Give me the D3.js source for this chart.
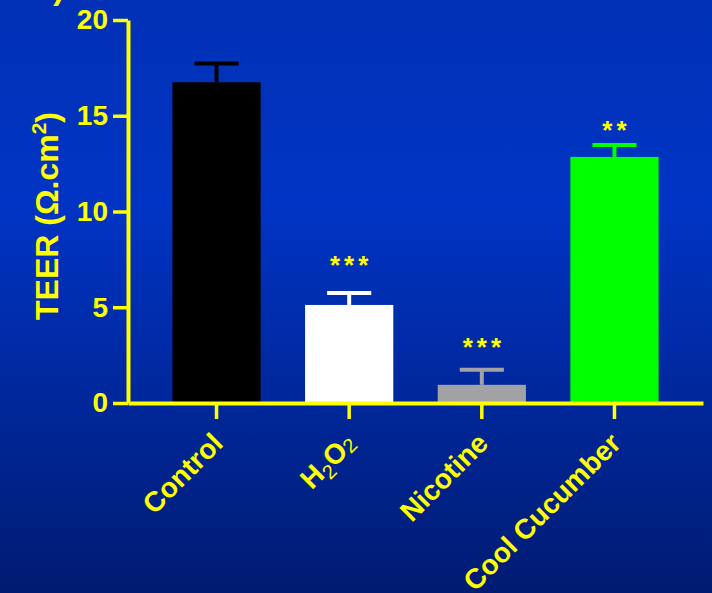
<!DOCTYPE html>
<html>
<head>
<meta charset="utf-8">
<script src="https://cdn.jsdelivr.net/npm/d3@7"></script>
<style>
  html, body { margin: 0; padding: 0; }
  body { width: 712px; height: 593px; overflow: hidden; }
  svg { display: block; }
  text { font-family: "Liberation Sans", Arial, sans-serif; font-weight: bold; }
</style>
</head>
<body>
<svg id="chart" width="712" height="593"></svg>
<script>
// TEER measurements per treatment (mean and upper error bar)
const categories = ["Control", "H2O2", "Nicotine", "Cool Cucumber"];
const meanValues = [16.75, 5.12, 0.95, 12.85];
const errorValues = [0.98, 0.62, 0.78, 0.62];
const barColors = ["#000000", "#ffffff", "#a2a1a6", "#00ff00"];
const significance = ["", "***", "***", "**"];
const significanceY = [0, 6.74, 2.45, 13.79];
const yTicks = [0, 5, 10, 15, 20];

const yellow = "#ffff00";
const svg = d3.select("#chart");
const W = 712, H = 593;

// Blue slide background
const defs = svg.append("defs");
const grad = defs.append("linearGradient")
  .attr("id", "bg").attr("x1", 0).attr("y1", 0).attr("x2", 0).attr("y2", 1);
grad.append("stop").attr("offset", "0%").attr("stop-color", "#0031b6");
grad.append("stop").attr("offset", "35%").attr("stop-color", "#0034c4");
grad.append("stop").attr("offset", "100%").attr("stop-color", "#001b72");
svg.append("rect").attr("width", W).attr("height", H).attr("fill", "url(#bg)");

// Panel letter, mostly cut off at the top edge
svg.append("text")
  .attr("x", 64).attr("y", -1)
  .attr("text-anchor", "end")
  .attr("font-size", 32)
  .attr("fill", yellow)
  .text("B)");

const x = d3.scaleBand()
  .domain(categories)
  .range([128, 703])
  .paddingInner(0.335)
  .paddingOuter(0.335);

const y = d3.scaleLinear().domain([0, 20]).range([403, 20]);

const data = categories.map((c, i) => ({
  cat: c, mean: meanValues[i], err: errorValues[i],
  color: barColors[i], sig: significance[i], sigY: significanceY[i]
}));

// Bars
svg.append("g").selectAll("rect").data(data).join("rect")
  .attr("x", d => x(d.cat))
  .attr("y", d => y(d.mean))
  .attr("width", x.bandwidth())
  .attr("height", d => y(0) - y(d.mean))
  .attr("fill", d => d.color);

// Upper error bars
const capHalf = x.bandwidth() / 4;
const eb = svg.append("g").selectAll("g").data(data).join("g");
eb.append("line")
  .attr("x1", d => x(d.cat) + x.bandwidth() / 2)
  .attr("x2", d => x(d.cat) + x.bandwidth() / 2)
  .attr("y1", d => y(d.mean))
  .attr("y2", d => y(d.mean + d.err))
  .attr("stroke", d => d.color).attr("stroke-width", 4);
eb.append("line")
  .attr("x1", d => x(d.cat) + x.bandwidth() / 2 - capHalf)
  .attr("x2", d => x(d.cat) + x.bandwidth() / 2 + capHalf)
  .attr("y1", d => y(d.mean + d.err))
  .attr("y2", d => y(d.mean + d.err))
  .attr("stroke", d => d.color).attr("stroke-width", 4);

// Significance stars
svg.append("g").selectAll("text").data(data.filter(d => d.sig)).join("text")
  .attr("x", d => x(d.cat) + x.bandwidth() / 2 + 2)
  .attr("y", d => y(d.sigY))
  .attr("text-anchor", "middle")
  .attr("font-size", 26)
  .attr("font-weight", "normal")
  .attr("letter-spacing", 4)
  .attr("fill", yellow)
  .text(d => d.sig);

// Y axis
const yAxis = svg.append("g")
  .attr("transform", "translate(128,0)")
  .call(d3.axisLeft(y).tickValues(yTicks).tickSize(15).tickSizeOuter(0).tickPadding(5));
yAxis.select(".domain").attr("stroke", yellow).attr("stroke-width", 4);
yAxis.selectAll(".tick line").attr("stroke", yellow).attr("stroke-width", 3.5);
yAxis.selectAll(".tick text")
  .attr("fill", yellow).attr("font-size", 28)
  .attr("font-family", "Liberation Sans, Arial, sans-serif")
  .attr("font-weight", "bold");

// X axis
const xAxis = svg.append("g")
  .attr("transform", "translate(0,403)")
  .call(d3.axisBottom(x).tickSize(16).tickSizeOuter(0).tickFormat(""));
xAxis.select(".domain").attr("stroke", yellow).attr("stroke-width", 4);
xAxis.selectAll(".tick line").attr("stroke", yellow).attr("stroke-width", 3.5);

// Rotated category labels
const labels = svg.append("g").selectAll("text").data(categories).join("text")
  .attr("transform", d => `translate(${x(d) + x.bandwidth() / 2 + 8},445) rotate(-45)`)
  .attr("text-anchor", "end")
  .attr("font-size", 28)
  .attr("fill", yellow);
labels.each(function(d) {
  const t = d3.select(this);
  if (d === "H2O2") {
    t.append("tspan").text("H");
    t.append("tspan").attr("font-size", 20).attr("font-weight", "normal").attr("dy", 6).text("2");
    t.append("tspan").attr("dy", -6).text("O");
    t.append("tspan").attr("font-size", 20).attr("font-weight", "normal").attr("dy", 2).text("2");
  } else {
    t.text(d);
  }
});

// Y axis title
const yt = svg.append("text")
  .attr("transform", "translate(58,320) rotate(-90)")
  .attr("text-anchor", "start")
  .attr("font-size", 32)
  .attr("fill", yellow);
yt.append("tspan").text("TEER (Ω.cm");
yt.append("tspan").attr("font-size", 21).attr("dy", -12).text("2");
yt.append("tspan").attr("dy", 12).text(")");
</script>
</body>
</html>
